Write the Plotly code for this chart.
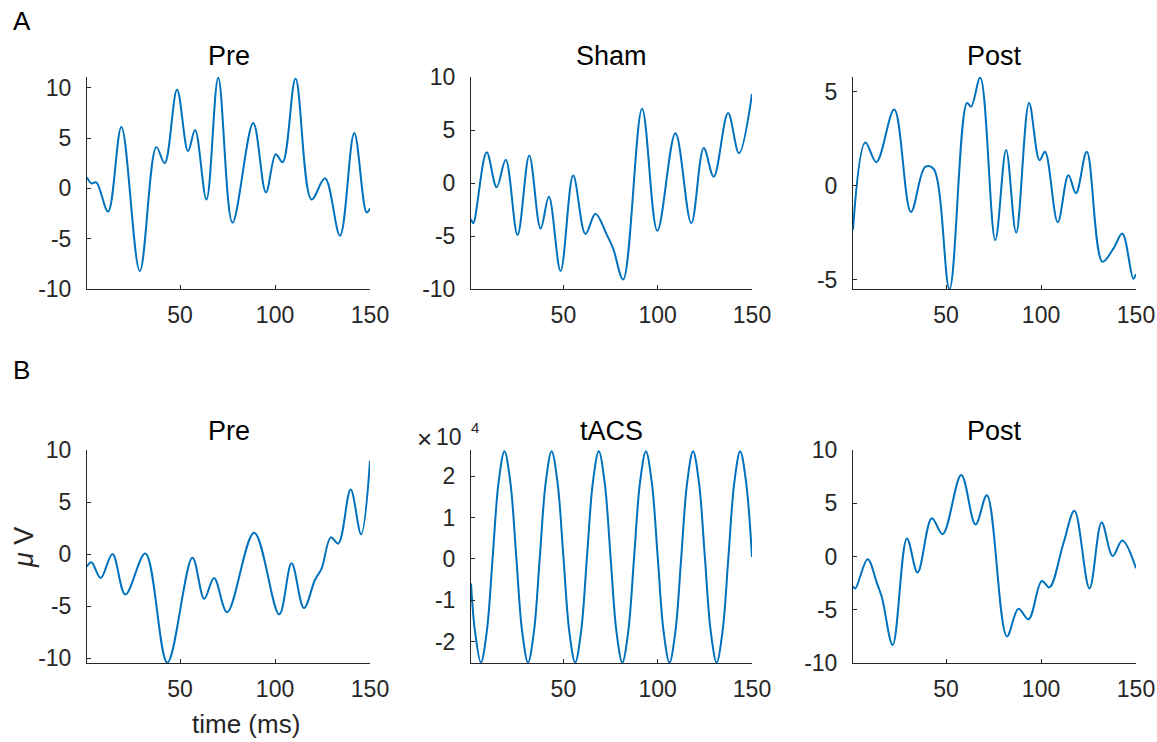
import plotly.graph_objects as go

# ---------------- data ----------------
# Row A, "Pre"
a_pre_t = [1, 3.3, 5.9, 12.1, 19.1, 28.8, 37.5, 41.9, 48.4, 54.2, 57.9, 63.9, 70.1, 77.6, 88.5,
           95.2, 100.4, 104, 110.8, 119.2, 126.3, 134.2, 141.7, 148.2, 150]
a_pre_v = [1.1, 0.5, 0.6, -2.3, 6.1, -8.2, 4.1, 2.5, 9.8, 3.7, 5.8, -1.1, 11.0, -3.4, 6.5,
           -0.4, 3.4, 2.6, 10.9, -1.1, 1.0, -4.7, 5.5, -2.4, -2.0]

# Row A, "Sham"
a_sham_t = [1, 2.2, 9.3, 14.6, 19.4, 25.7, 31.9, 37.9, 42.3, 48.5, 55.2, 61.7, 67, 72.8, 76.4,
            81.7, 91.7, 99.8, 109.4, 117.8, 124.4, 129.7, 137.3, 143.1, 150]
a_sham_v = [-3.4, -3.8, 2.9, -0.4, 2.2, -4.9, 2.6, -4.3, -1.3, -8.3, 0.7, -4.8, -2.9, -4.8, -6.2,
            -9.1, 7.0, -4.5, 4.7, -3.8, 3.3, 0.6, 6.6, 2.8, 8.4]

# Row A, "Post"
a_post_t = [1, 7.5, 13.3, 22.7, 31.5, 39, 43.4, 51.8, 61, 63.2, 68, 75.9, 81.6, 86.9, 93.7,
            99.2, 102.1, 108.8, 114.4, 118.4, 124.1, 132.3, 138.1, 142.8, 148.6, 150]
a_post_v = [-2.35, 2.3, 1.25, 4.05, -1.4, 1.0, 0.9, -5.5, 4.4, 4.2, 5.75, -2.9, 1.9, -2.5, 4.4,
            1.35, 1.8, -1.95, 0.55, -0.4, 1.8, -4.05, -3.35, -2.55, -4.95, -4.7]

# Row B, "Pre"
b_pre_t = [1, 3.3, 8.2, 14.4, 21.2, 31.7, 43.3, 56.5, 62.7, 67.9, 74.8, 89, 102.2, 108.7, 115.2,
           121, 124.5, 129.4, 133.3, 139.8, 145.3, 150]
b_pre_v = [-1.2, -0.8, -2.3, 0.0, -3.9, 0.05, -10.45, -0.35, -4.3, -2.3, -5.6, 2.05, -5.8, -0.9, -5.2,
           -2.5, -1.4, 1.6, 1.0, 6.2, 1.9, 8.95]

# Row B, "tACS" (values in units of 1e4)
b_tacs_t = [1, 3.125, 6.25, 9.375, 12.5, 15.625, 18.75, 21.875, 25, 28.125, 31.25, 34.375, 37.5,
            40.625, 43.75, 46.875, 50, 53.125, 56.25, 59.375, 62.5, 65.625, 68.75, 71.875, 75,
            78.125, 81.25, 84.375, 87.5, 90.625, 93.75, 96.875, 100, 103.125, 106.25, 109.375,
            112.5, 115.625, 118.75, 121.875, 125, 128.125, 131.25, 134.375, 137.5, 140.625,
            143.75, 146.875, 150]
b_tacs_v = [-0.59, -1.75, -2.5, -1.75, 0.05, 1.85, 2.6, 1.85, 0.05, -1.75, -2.5, -1.75, 0.05,
            1.85, 2.6, 1.85, 0.05, -1.75, -2.5, -1.75, 0.05, 1.85, 2.6, 1.85, 0.05,
            -1.75, -2.5, -1.75, 0.05, 1.85, 2.6, 1.85, 0.05, -1.75, -2.5, -1.75,
            0.05, 1.85, 2.6, 1.85, 0.05, -1.75, -2.5, -1.75, 0.05, 1.85,
            2.6, 1.85, 0.05]

# Row B, "Post"
b_post_t = [1, 2.2, 8.7, 13.6, 16.3, 21.9, 29.4, 35, 42.5, 48.2, 58, 65.5, 71.5, 82, 88.1,
            93.4, 100.4, 104.4, 111.8, 117.6, 125.5, 131.9, 137.7, 142.8, 150]
b_post_v = [-2.8, -3.0, -0.25, -2.5, -3.9, -8.3, 1.7, -1.5, 3.6, 2.1, 7.65, 3.0, 5.75, -7.5, -4.9,
            -5.9, -2.3, -2.9, 1.25, 4.3, -3.0, 3.2, 0.05, 1.5, -1.1]

titles = ["Pre", "Sham", "Post", "Pre", "tACS", "Post"]
x_ticks = [50, 100, 150]
y_ticks = [
    [-10, -5, 0, 5, 10],
    [-10, -5, 0, 5, 10],
    [-5, 0, 5],
    [-10, -5, 0, 5, 10],
    [-2, -1, 0, 1, 2],
    [-10, -5, 0, 5, 10],
]
y_ranges = [[-10, 11.07], [-10, 10], [-5.5, 5.78], [-10.48, 10], [-2.51, 2.63], [-10, 10]]

series = [(a_pre_t, a_pre_v), (a_sham_t, a_sham_v), (a_post_t, a_post_v),
          (b_pre_t, b_pre_v), (b_tacs_t, b_tacs_v), (b_post_t, b_post_v)]

# ---------------- layout geometry ----------------
W, H = 1157, 742
col_px = [(87, 370), (471, 752), (853, 1136)]
row_px = [(77, 289), (450, 663)]

LINE_COLOR = "#0072BD"
AX_COLOR = "#262626"
FONT = "Liberation Sans, Arial, Helvetica, sans-serif"

fig = go.Figure()
layout = dict(
    width=W, height=H,
    margin=dict(l=0, r=0, t=0, b=0, autoexpand=False),
    paper_bgcolor="white", plot_bgcolor="white",
    showlegend=False,
    font=dict(family=FONT, color=AX_COLOR),
)

annotations = []
for i, (t, v) in enumerate(series):
    r, c = divmod(i, 3)
    n = i + 1
    xname = "x" if n == 1 else f"x{n}"
    yname = "y" if n == 1 else f"y{n}"
    fig.add_trace(go.Scatter(
        x=t, y=v, mode="lines", xaxis=xname, yaxis=yname,
        line=dict(color=LINE_COLOR, width=2, shape="spline", smoothing=1.0),
        hoverinfo="skip",
    ))
    x0, x1 = col_px[c]
    y0, y1 = row_px[r]
    xd = [x0 / W, x1 / W]
    yd = [1 - y1 / H, 1 - y0 / H]
    common = dict(showline=True, linecolor=AX_COLOR, linewidth=1, showgrid=False,
                  zeroline=False, ticks="inside", ticklen=4, tickcolor=AX_COLOR,
                  tickwidth=1, automargin=False,
                  tickfont=dict(size=23, color=AX_COLOR, family=FONT))
    layout["xaxis" if n == 1 else f"xaxis{n}"] = dict(
        domain=xd, anchor=yname, range=[1, 150],
        tickmode="array", tickvals=x_ticks, ticktext=[str(k) for k in x_ticks],
        ticklabelstandoff=5, **common)
    layout["yaxis" if n == 1 else f"yaxis{n}"] = dict(
        domain=yd, anchor=xname, range=y_ranges[i],
        tickmode="array", tickvals=y_ticks[i], ticktext=[str(k) for k in y_ticks[i]],
        ticklabelstandoff=10, **common)
    # title
    annotations.append(dict(
        text=titles[i], xref="paper", yref="paper",
        x=(x0 + x1) / 2 / W, y=1 - ((56 if r == 0 else 431)) / H,
        xanchor="center", yanchor="middle", showarrow=False,
        font=dict(size=27, color="black", family=FONT)))

# panel letters
annotations.append(dict(text="A", xref="paper", yref="paper", x=11 / W, y=1 - 21 / H,
                        xanchor="left", yanchor="middle", showarrow=False,
                        font=dict(size=26, color="black", family=FONT)))
annotations.append(dict(text="B", xref="paper", yref="paper", x=11 / W, y=1 - 370 / H,
                        xanchor="left", yanchor="middle", showarrow=False,
                        font=dict(size=26, color="black", family=FONT)))
# axis labels
annotations.append(dict(text="<i>μ</i> V", xref="paper", yref="paper", x=24 / W, y=1 - 548 / H,
                        xanchor="center", yanchor="middle", textangle=-90, showarrow=False,
                        font=dict(size=27, color=AX_COLOR, family=FONT)))
annotations.append(dict(text="time (ms)", xref="paper", yref="paper", x=246 / W, y=1 - 724 / H,
                        xanchor="center", yanchor="middle", showarrow=False,
                        font=dict(size=26, color=AX_COLOR, family=FONT)))
# exponent label for tACS
annotations.append(dict(text="×", xref="paper", yref="paper", x=425 / W, y=1 - 439 / H,
                        xanchor="center", yanchor="middle", showarrow=False,
                        font=dict(size=26, color=AX_COLOR, family=FONT)))
annotations.append(dict(text="10", xref="paper", yref="paper", x=434 / W, y=1 - 437 / H,
                        xanchor="left", yanchor="middle", showarrow=False,
                        font=dict(size=23, color=AX_COLOR, family=FONT)))
annotations.append(dict(text="4", xref="paper", yref="paper", x=475 / W, y=1 - 427 / H,
                        xanchor="center", yanchor="middle", showarrow=False,
                        font=dict(size=15, color=AX_COLOR, family=FONT)))

layout["annotations"] = annotations
fig.update_layout(**layout)
fig.write_html("out.html")
